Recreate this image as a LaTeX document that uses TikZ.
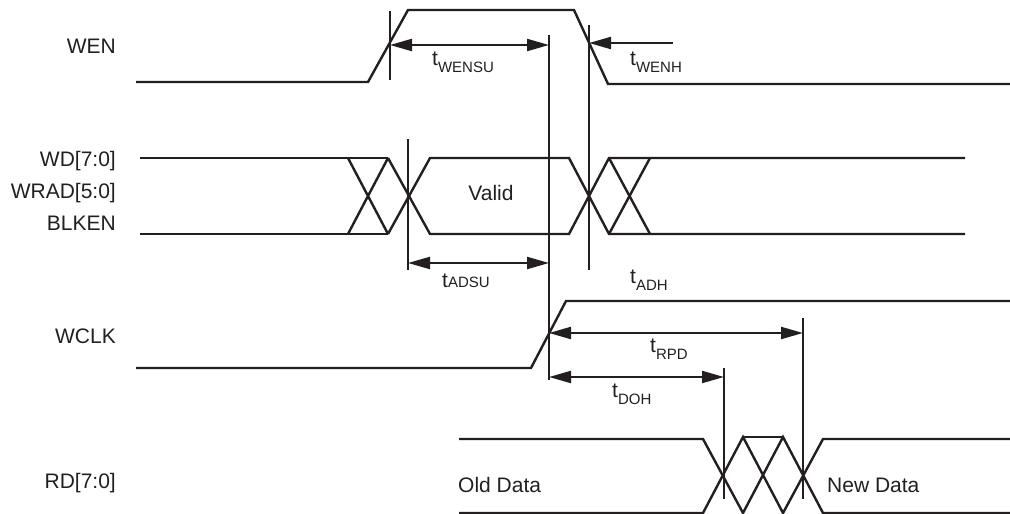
\documentclass[tikz,border=0pt]{standalone}
\usepackage{fontspec}
\setmainfont{Liberation Sans}
\usetikzlibrary{arrows.meta}
\definecolor{ink}{RGB}{35,31,32}
\newcommand{\tsub}[1]{t\raisebox{-7pt}{\fontsize{15}{15}\selectfont #1}}
\newcommand{\tsml}[1]{t{\fontsize{15}{15}\selectfont #1}}
\begin{document}
\begin{tikzpicture}[x=1pt,y=-1pt,
  sig/.style={line width=2.4pt, ink},
  mark line/.style={line width=2pt, ink},
  dim/.style={line width=2.2pt, ink, -{Triangle[length=22pt,width=12pt]}},
  dimboth/.style={line width=2.2pt, ink, {Triangle[length=22pt,width=12pt]}-{Triangle[length=22pt,width=12pt]}},
  lab/.style={inner sep=0pt, text=ink, font=\fontsize{21}{23}\selectfont}]
\useasboundingbox (0,0) rectangle (1010,514);

% signal names
\node[lab, anchor=base east] (nwen) at (116,53) {WEN};
\node[lab, anchor=base east] (nwd) at (116,166) {WD[7:0]};
\node[lab, anchor=base east] (nwrad) at (116,198) {WRAD[5:0]};
\node[lab, anchor=base east] (nblk) at (116,230) {BLKEN};
\node[lab, anchor=base east] (nwclk) at (116,343) {WCLK};
\node[lab, anchor=base east] (nrd) at (116,488) {RD[7:0]};

% WEN
\draw[sig] (136,82) -- (368,82) -- (408,10) -- (574,10) -- (608,84) -- (1010,84);

% WD / WRAD / BLKEN bus
\draw[sig] (140,158) -- (388,158);
\draw[sig] (140,234) -- (388,234);
\draw[sig] (348,158) -- (388,234);
\draw[sig] (348,234) -- (388,158);
\draw[sig] (388,158) -- (430,234) -- (569,234) -- (609,158) -- (965,158);
\draw[sig] (388,234) -- (430,158) -- (569,158) -- (609,234) -- (965,234);
\draw[sig] (609,158) -- (650,234);
\draw[sig] (609,234) -- (650,158);
\node[lab, anchor=base] (valid) at (491,200) {Valid};

% WCLK
\draw[sig] (136,368) -- (531,368) -- (566,301) -- (1010,301);

% RD
\draw[sig] (459,439) -- (703,439) -- (743,513) -- (783,437) -- (823,513) -- (1010,513);
\draw[sig] (459,513) -- (703,513) -- (743,437) -- (783,513) -- (823,439) -- (1010,439);
\draw[sig] (743,437) -- (783,437);
\node[lab, anchor=base west] (old) at (458,492) {Old Data};
\node[lab, anchor=base west] (new) at (827,492) {New Data};

% reference lines
\coordinate (v1t) at (390,11);  \coordinate (v1b) at (390,80);
\coordinate (v2t) at (549,35);  \coordinate (v2b) at (549,380);
\coordinate (v3t) at (589,25);  \coordinate (v3b) at (589,270);
\coordinate (v4t) at (408,139); \coordinate (v4b) at (408,270);
\coordinate (v5t) at (803,318); \coordinate (v5b) at (803,499);
\coordinate (v6t) at (724,368); \coordinate (v6b) at (724,499);
\foreach \v in {1,...,6} \draw[mark line] (v\v t) -- (v\v b);

% dimension arrows
\coordinate (wensuL) at (390,45); \coordinate (wensuR) at (549,45);
\draw[dimboth] (wensuL) -- (wensuR);
\coordinate (wenhS) at (673,43); \coordinate (wenhE) at (589,43);
\draw[dim] (wenhS) -- (wenhE);
\coordinate (adsuL) at (408,263); \coordinate (adsuR) at (549,263);
\draw[dimboth] (adsuL) -- (adsuR);
\coordinate (rpdL) at (549,333); \coordinate (rpdR) at (803,333);
\draw[dimboth] (rpdL) -- (rpdR);
\coordinate (dohL) at (549,377); \coordinate (dohR) at (724,377);
\draw[dimboth] (dohL) -- (dohR);

% timing labels
\node[lab, anchor=base west] (twensu) at (432,65) {\tsub{WENSU}};
\node[lab, anchor=base west] (twenh) at (630,65) {\tsub{WENH}};
\node[lab, anchor=base west] (tadsu) at (442,287) {\tsml{ADSU}};
\node[lab, anchor=base west] (tadh) at (630,283) {\tsub{ADH}};
\node[lab, anchor=base west] (trpd) at (650,352) {\tsub{RPD}};
\node[lab, anchor=base west] (tdoh) at (612,397) {\tsub{DOH}};
\end{tikzpicture}
\end{document}
